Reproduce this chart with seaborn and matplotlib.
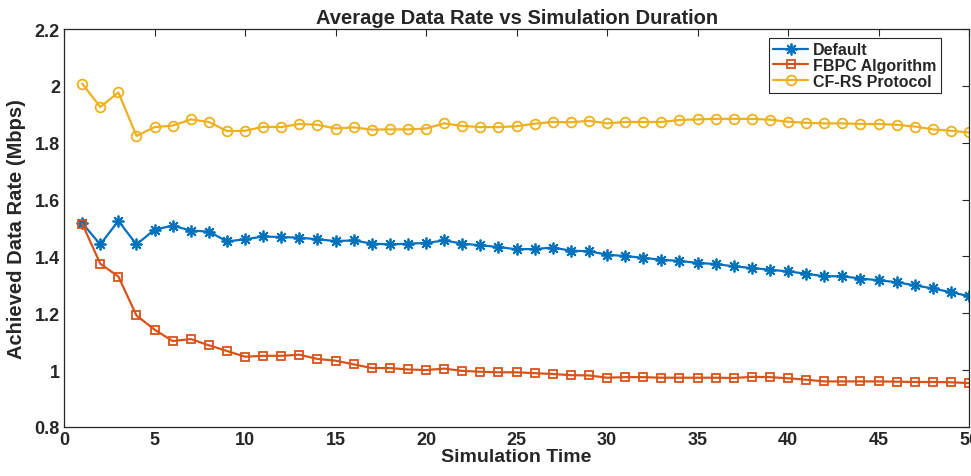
import pandas as pd
import numpy as np
import matplotlib
matplotlib.use('Agg')
import matplotlib.pyplot as plt
import seaborn as sns

# values
sim_time = list(range(1, 51))

default_rate = [1.517, 1.442, 1.525, 1.442, 1.494, 1.508, 1.491, 1.487, 1.453, 1.460,
                1.470, 1.468, 1.466, 1.460, 1.454, 1.456, 1.445, 1.442, 1.445, 1.447,
                1.456, 1.445, 1.439, 1.433, 1.425, 1.426, 1.431, 1.420, 1.418, 1.406,
                1.401, 1.395, 1.388, 1.384, 1.377, 1.373, 1.365, 1.359, 1.353, 1.347,
                1.339, 1.330, 1.330, 1.322, 1.316, 1.309, 1.298, 1.287, 1.274, 1.260]

fbpc_rate = [1.515, 1.374, 1.329, 1.192, 1.142, 1.102, 1.109, 1.087, 1.067, 1.047,
             1.050, 1.050, 1.054, 1.039, 1.033, 1.020, 1.007, 1.007, 1.002, 1.000,
             1.005, 0.997, 0.994, 0.992, 0.992, 0.989, 0.986, 0.982, 0.981, 0.973,
             0.975, 0.975, 0.973, 0.973, 0.973, 0.973, 0.972, 0.976, 0.975, 0.971,
             0.966, 0.960, 0.960, 0.960, 0.960, 0.959, 0.958, 0.958, 0.957, 0.954]

cfrs_rate = [2.008, 1.926, 1.977, 1.824, 1.855, 1.860, 1.882, 1.873, 1.841, 1.842,
             1.856, 1.855, 1.866, 1.863, 1.850, 1.854, 1.846, 1.847, 1.847, 1.850,
             1.868, 1.859, 1.855, 1.855, 1.858, 1.867, 1.873, 1.872, 1.877, 1.868,
             1.873, 1.873, 1.873, 1.880, 1.882, 1.884, 1.884, 1.884, 1.881, 1.874,
             1.870, 1.868, 1.868, 1.866, 1.866, 1.863, 1.857, 1.847, 1.842, 1.836]

series_names = ['Default', 'FBPC Algorithm', 'CF-RS Protocol']
series_colors = ['#0072BD', '#D95319', '#EDB120']
series_markers = [(8, 2, 0), 's', 'o']
marker_sizes = [8.5, 6, 7]

df = pd.DataFrame({
    'Simulation Time': sim_time * 3,
    'Rate': default_rate + fbpc_rate + cfrs_rate,
    'Series': np.repeat(series_names, len(sim_time)),
})

sns.set_style('white')
plt.rcParams['font.family'] = ['Liberation Sans', 'DejaVu Sans']
plt.rcParams['font.weight'] = 'bold'

fig = plt.figure(figsize=(9.71, 4.77), dpi=100)
ax = fig.add_axes([0.066, 0.103, 0.932, 0.834])

for name, color, marker, ms in zip(series_names, series_colors, series_markers, marker_sizes):
    sns.lineplot(data=df[df['Series'] == name], x='Simulation Time', y='Rate',
                 color=color, marker=marker, markersize=ms,
                 mfc='none', mec=color, mew=1.3, linewidth=1.6, label=name, ax=ax)

ax.set_xlim(0, 50)
ax.set_ylim(0.8, 2.2)
ax.set_xticks(np.arange(0, 51, 5))
ax.set_yticks([0.8, 1.0, 1.2, 1.4, 1.6, 1.8, 2.0, 2.2])
ax.set_yticklabels(['0.8', '1', '1.2', '1.4', '1.6', '1.8', '2', '2.2'])
ax.tick_params(direction='in', top=True, right=True, length=5, width=0.8,
               labelsize=13, colors='#262626', pad=3)
for lbl in ax.get_xticklabels() + ax.get_yticklabels():
    lbl.set_fontweight('bold')
for sp in ax.spines.values():
    sp.set_color('#262626')
    sp.set_linewidth(0.9)

ax.set_title('Average Data Rate vs Simulation Duration', fontsize=14.5, fontweight='bold', pad=4)
ax.set_xlabel('Simulation Time', fontsize=14, fontweight='bold', labelpad=0)
ax.set_ylabel('Achieved Data Rate (Mbps)', fontsize=14.5, fontweight='bold', labelpad=6)

leg = ax.legend(loc='upper right', bbox_to_anchor=(0.972, 0.985), fancybox=False,
                framealpha=1, edgecolor='#262626', fontsize=11.5, handlelength=2.2,
                handletextpad=0.3, borderpad=0.25, labelspacing=0.05, borderaxespad=0.2)
leg.get_frame().set_linewidth(0.8)
for t in leg.get_texts():
    t.set_fontweight('bold')

plt.savefig('out.png', dpi=100)
